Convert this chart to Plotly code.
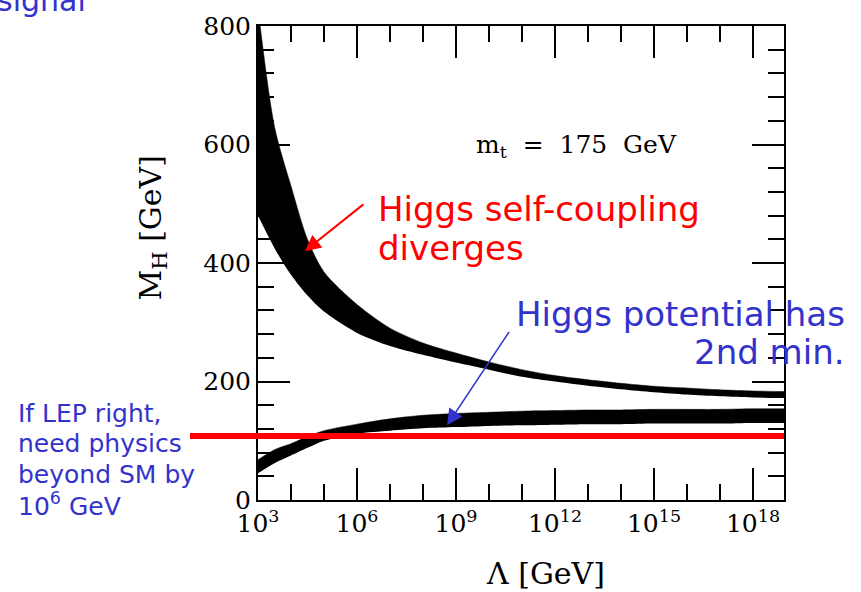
import plotly.graph_objects as go

# log10(Lambda / GeV) sample points
log_lambda = [3.0, 3.5, 4.0, 4.5, 5.0, 6.0, 7.0, 8.0, 9.0, 10.0, 11.0, 12.0,
              13.0, 14.0, 15.0, 16.0, 17.0, 18.0, 19.0]
# Triviality band (Higgs self-coupling diverges), M_H [GeV]
triv_upper = [830, 630, 530, 440, 385, 330, 290, 265, 248, 233, 220, 210,
              203, 197, 192, 189, 186, 184, 183]
triv_lower = [480, 425, 380, 345, 318, 282, 260, 245, 232, 220, 208, 200,
              193, 187, 182, 178, 175, 173, 172]
# Vacuum stability band (Higgs potential has 2nd min.), M_H [GeV]
stab_upper = [68, 85, 95, 107, 117, 128, 137, 143, 146, 148, 150, 151,
              152, 152, 153, 153, 153, 154, 154]
stab_lower = [45, 62, 75, 88, 100, 112, 117, 121, 123, 125, 126, 127,
              128, 128, 129, 129, 129, 130, 130]
lep_limit = 108

x_tick_exp = [3, 6, 9, 12, 15, 18]
x_minor_exp = [4, 5, 7, 8, 10, 11, 13, 14, 16, 17]

lam = [10 ** e for e in log_lambda]

fig = go.Figure()
for up, lo in [(triv_upper, triv_lower), (stab_upper, stab_lower)]:
    fig.add_trace(go.Scatter(x=lam, y=lo, mode="lines",
                             line=dict(width=0, color="black", shape="spline", smoothing=0.8),
                             showlegend=False, hoverinfo="skip"))
    fig.add_trace(go.Scatter(x=lam, y=up, mode="lines",
                             line=dict(width=0.5, color="black", shape="spline", smoothing=0.8),
                             fill="tonexty", fillcolor="black",
                             showlegend=False, hoverinfo="skip"))

serif = "DejaVu Serif"
comic = "DejaVu Sans"
blue = "#3333CC"
red = "#FF0000"

axis_common = dict(showline=True, linewidth=2, linecolor="black", mirror="ticks",
                   ticks="inside", ticklen=32, tickwidth=2, tickcolor="black",
                   showgrid=False, zeroline=False,
                   tickfont=dict(family=serif, size=25, color="black"))

fig.update_xaxes(type="log", range=[3, 18.94],
                 tickvals=[10 ** e for e in x_tick_exp],
                 ticktext=[f"10<sup>{e}</sup>" for e in x_tick_exp],
                 minor=dict(tickvals=[10 ** e for e in x_minor_exp], ticklen=16,
                            tickwidth=2, tickcolor="black", ticks="inside"),
                 **axis_common)
fig.update_yaxes(range=[0, 800], tickvals=[0, 200, 400, 600, 800],
                 minor=dict(dtick=40, ticklen=16, tickwidth=2, tickcolor="black",
                            ticks="inside"),
                 **axis_common)

# LEP limit line
fig.add_shape(type="line", xref="paper", yref="y", x0=(190 - 258) / 526, x1=1,
              y0=lep_limit, y1=lep_limit, line=dict(color=red, width=6))


def px(xp, yp):
    return (xp - 258) / 526, (500 - yp) / 480


ann = []


def text(xp, yp, s, size, color, family=comic, xanchor="left", angle=0):
    x, y = px(xp, yp)
    ann.append(dict(xref="paper", yref="paper", x=x, y=y, text=s, showarrow=False,
                    xanchor=xanchor, yanchor="middle", textangle=angle,
                    font=dict(family=family, size=size, color=color)))


# axis titles
text(152, 225, "M<sub>H</sub> [GeV]", 30, "black", family=serif, xanchor="center", angle=-90)
text(545, 574, "Λ [GeV]", 30, "black", family=serif, xanchor="center")

text(474, 142, "m<sub>t</sub>  =  175  GeV", 25, "black", family=serif)
text(376, 205, "Higgs self-coupling", 34, red)
text(376, 245, "diverges", 34, red)
text(847, 312, "Higgs potential has", 34, blue, xanchor="right")
text(847, 350, "2nd min.", 34, blue, xanchor="right")
text(16, 412, "If LEP right,", 25, blue)
text(16, 443, "need physics", 25, blue)
text(16, 474, "beyond SM by", 25, blue)
text(16, 505, "10<sup>6</sup> GeV", 25, blue)
ann.append(dict(xref="paper", yref="paper", x=(88 - 258) / 526, y=1 + (20 - 14) / 480,
                text="signal", showarrow=False, xanchor="right", yanchor="bottom",
                font=dict(family=comic, size=30, color=blue)))
# arrows (x in log10 units on the log axis)
ann.append(dict(x=4.42, y=420, xref="x", yref="y", text="", showarrow=True,
                ax=60, ay=-48, arrowcolor=red, arrowwidth=2, arrowhead=2,
                arrowsize=1.6))
ann.append(dict(x=8.73, y=126, xref="x", yref="y", text="", showarrow=True,
                ax=63, ay=-95, arrowcolor=blue, arrowwidth=1.6, arrowhead=2,
                arrowsize=2))

fig.update_layout(width=861, height=592, margin=dict(l=258, r=77, t=20, b=92),
                  paper_bgcolor="white", plot_bgcolor="white", annotations=ann)

fig.write_html("out.html")
